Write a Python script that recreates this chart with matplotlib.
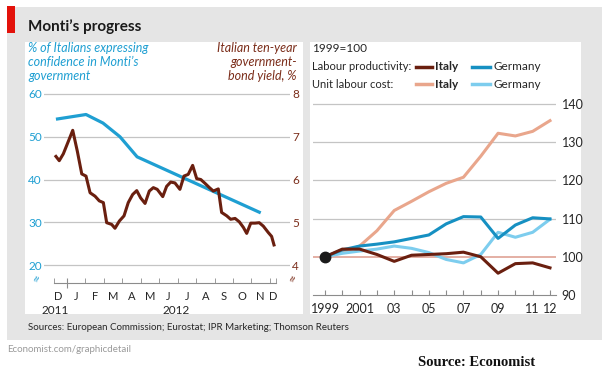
import matplotlib
matplotlib.use("Agg")
import matplotlib.pyplot as plt
from matplotlib.patches import Rectangle
from matplotlib.lines import Line2D

plt.rcParams['font.family'] = ['Lato', 'DejaVu Sans']

#%% data - left panel (months, 0 = 1 Jan 2012)
conf_x = [-0.6, 1.03, 1.95, 2.87, 3.8, 10.5]
conf_pct = [54.1, 55.2, 53.2, 50.0, 45.3, 32.2]

yield_x = [-0.60, -0.42, -0.20, 0.07, 0.31, 0.56, 0.80, 1.03, 1.25, 1.52, 1.75,
           1.97, 2.15, 2.42, 2.60, 2.84, 3.09, 3.32, 3.56, 3.78, 3.99, 4.23,
           4.46, 4.68, 4.89, 5.19, 5.40, 5.62, 5.85, 6.12, 6.34, 6.57, 6.81,
           7.03, 7.25, 7.48, 7.72, 7.93, 8.20, 8.38, 8.66, 8.87, 9.11, 9.34,
           9.56, 9.74, 9.96, 10.19, 10.42, 10.64, 10.91, 11.09, 11.22]
yield_v = [6.54, 6.44, 6.60, 6.89, 7.15, 6.66, 6.13, 6.08, 5.69, 5.61, 5.50,
           5.46, 4.99, 4.95, 4.86, 5.03, 5.15, 5.46, 5.65, 5.74, 5.57, 5.44,
           5.73, 5.81, 5.77, 5.60, 5.84, 5.94, 5.92, 5.77, 6.08, 6.12, 6.33,
           6.02, 6.00, 5.91, 5.81, 5.73, 5.78, 5.23, 5.15, 5.07, 5.09, 5.01,
           4.88, 4.74, 4.98, 4.98, 4.99, 4.91, 4.76, 4.67, 4.47]

month_labels = ['D', 'J', 'F', 'M', 'A', 'M', 'J', 'J', 'A', 'S', 'O', 'N', 'D']
month_centers = [-0.5, 0.5, 1.5, 2.5, 3.5, 4.5, 5.5, 6.5, 7.5, 8.5, 9.5, 10.5, 11.17]
month_ticks = [-0.7, 1, 2, 3, 4, 5, 6, 7, 8, 9, 10, 11, 11.33]
pct_ticks = [20, 30, 40, 50, 60]
yield_ticks = [4, 5, 6, 7, 8]

#%% data - right panel (1999=100)
years = list(range(1999, 2013))
year_labels = ['1999', '', '2001', '', '03', '', '05', '', '07', '', '09', '', '11', '12']
ita_prod = [100, 102.0, 102.0, 100.6, 98.8, 100.4, 100.6, 100.8, 101.2, 100.0, 95.7, 98.2, 98.4, 97.1]
ger_prod = [100, 101.8, 102.8, 103.3, 103.9, 104.8, 105.7, 108.6, 110.5, 110.4, 104.8, 108.3, 110.2, 109.9]
ita_ulc = [100, 101.1, 102.8, 106.8, 112.1, 114.5, 117.0, 119.2, 120.8, 126.3, 132.3, 131.6, 132.8, 135.6]
ger_ulc = [100, 100.9, 101.5, 102.0, 102.8, 102.2, 101.1, 99.3, 98.4, 100.6, 106.4, 105.1, 106.4, 109.8]
idx_ticks = [90, 100, 110, 120, 130, 140]

BLUE = '#1f9fd2'
BROWN = '#6a1f0f'
BROWN_TXT = '#7b2d1a'
TEAL = '#1690c2'
LBLUE = '#7dcdee'
SALMON = '#e9a68c'
GRID = '#c4c4c4'
TXT = '#262626'

W, H = 612, 389
def fx(px): return px / W
def fy(py): return 1 - py / H

fig = plt.figure(figsize=(W / 100, H / 100), dpi=100)

def frect(x0, y0, x1, y1, color, z):
    fig.patches.append(Rectangle((fx(x0), fy(y1)), fx(x1) - fx(x0), fy(y0) - fy(y1),
                                 transform=fig.transFigure, color=color, zorder=z, lw=0))

frect(7, 7, 602, 340, '#e5e5e5', -10)
frect(7, 6, 15, 33, '#e3120b', -9)
frect(25, 42, 303, 314, 'white', -8)
frect(310, 42, 581, 314, 'white', -8)

fig.text(fx(28), fy(27), "Monti’s progress", fontsize=11, fontweight='bold', color='#1a1a1a', va='center')

#%% left panel
ax1 = fig.add_axes([fx(44), fy(283), fx(290) - fx(44), fy(89.7) - fy(283)])
ax1.set_facecolor('none')
ax1.set_xlim(-1.247, 12.087)
ax1.set_ylim(15.8, 61)
for s in ['top', 'left', 'right']:
    ax1.spines[s].set_visible(False)
ax1.spines['bottom'].set_bounds(-0.7, 11.33)
ax1.spines['bottom'].set_color('#8c8c8c')
for v in pct_ticks:
    ax1.axhline(v, color=GRID, lw=0.9, zorder=0)
ax1.set_yticks(pct_ticks)
ax1.tick_params(axis='y', length=0, pad=1.5, labelcolor=BLUE, labelsize=8.5)
ax1.set_xticks(month_centers, month_labels)
ax1.tick_params(axis='x', which='major', length=0, pad=6, labelsize=8, labelcolor=TXT)
ax1.set_xticks(month_ticks, minor=True)
ax1.tick_params(axis='x', which='minor', length=3.5, direction='in', color='#8c8c8c')
sec = ax1.secondary_xaxis('bottom')
sec.set_xticks([0])
sec.tick_params(length=7, direction='inout', labelbottom=False, color='#8c8c8c')
sec.spines['bottom'].set_visible(False)
ax1.plot(conf_x, conf_pct, color=BLUE, lw=2.3, solid_capstyle='butt', zorder=3)

ax2 = ax1.twinx()
ax2.set_ylim(3.58, 8.1)
for s in ax2.spines.values():
    s.set_visible(False)
ax2.set_yticks(yield_ticks)
ax2.tick_params(axis='y', length=0, pad=1.5, labelcolor=BROWN_TXT, labelsize=8.5)
ax2.plot(yield_x, yield_v, color=BROWN, lw=2.2, solid_joinstyle='round', zorder=4)

for xt, lab in [(-0.65, '2011'), (5.9, '2012')]:
    ax1.text(xt, -0.14, lab, transform=ax1.get_xaxis_transform(), ha='center', va='center',
             fontsize=8.5, color=TXT)

fig.text(fx(37), fy(278), '≈', rotation=70, color=BLUE, fontsize=10, ha='center', va='center')
fig.text(fx(293), fy(278), '≈', rotation=70, color=BROWN_TXT, fontsize=10, ha='center', va='center')

fig.text(fx(28), fy(42), "% of Italians expressing\nconfidence in Monti’s\ngovernment",
         fontsize=9, style='italic', color=BLUE, va='top', ha='left', linespacing=1.2)
fig.text(fx(297), fy(42), "Italian ten-year\ngovernment-\nbond yield, %",
         fontsize=9, style='italic', color=BROWN_TXT, va='top', ha='right', linespacing=1.2)

#%% right panel
ax3 = fig.add_axes([fx(313), fy(295), fx(556) - fx(313), fy(100) - fy(295)])
ax3.set_facecolor('none')
ax3.set_xlim(1998.307, 2012.347)
ax3.set_ylim(90, 141)
for s in ['top', 'left', 'right']:
    ax3.spines[s].set_visible(False)
ax3.spines['bottom'].set_color('#8c8c8c')
for v in idx_ticks[2:]:
    ax3.axhline(v, color=GRID, lw=0.9, zorder=0)
ax3.axhline(100, color='#dc9a8c', lw=1.1, zorder=0)
ax3.yaxis.tick_right()
ax3.set_yticks(idx_ticks)
ax3.tick_params(axis='y', length=0, pad=4, labelsize=9, labelcolor=TXT)
ax3.set_xticks(years, year_labels)
ax3.tick_params(axis='x', length=3.5, direction='in', color='#8c8c8c', pad=6,
                labelsize=9, labelcolor=TXT)

ax3.plot(years, ita_ulc, color=SALMON, lw=2.2, zorder=2)
ax3.plot(years, ger_ulc, color=LBLUE, lw=2.2, zorder=3)
ax3.plot(years, ger_prod, color=TEAL, lw=2.2, zorder=4)
ax3.plot(years, ita_prod, color=BROWN, lw=2.2, zorder=5)
ax3.plot(years[0], ita_prod[0], 'o', color='#1a1a1a', ms=7.5, zorder=10, clip_on=False)

fig.text(fx(312), fy(48), "1999=100", fontsize=8.5, color=TXT, va='center')
rows = [(67, "Labour productivity:", BROWN, TEAL), (84, "Unit labour cost:", SALMON, LBLUE)]
for py, lab, c1, c2 in rows:
    fig.text(fx(312), fy(py), lab, fontsize=8, color=TXT, va='center')
    fig.add_artist(Line2D([fx(416), fx(432)], [fy(py), fy(py)], color=c1, lw=2.5,
                          transform=fig.transFigure))
    fig.text(fx(435), fy(py), "Italy", fontsize=8.5, fontweight='bold', color=TXT, va='center')
    fig.add_artist(Line2D([fx(472), fx(490)], [fy(py), fy(py)], color=c2, lw=2.5,
                          transform=fig.transFigure))
    fig.text(fx(493), fy(py), "Germany", fontsize=8.5, color=TXT, va='center')

#%% footer
fig.text(fx(28), fy(328), "Sources: European Commission; Eurostat; IPR Marketing; Thomson Reuters",
         fontsize=7, color=TXT, va='center')
fig.text(fx(7), fy(350), "Economist.com/graphicdetail", fontsize=7, color='#9a9a9a', va='center')
fig.text(fx(418), fy(363), "Source: Economist", fontsize=10.5, fontweight='bold',
         family=['Liberation Serif', 'DejaVu Serif'], color='#111111', va='center')

fig.savefig("out.png", dpi=100)
